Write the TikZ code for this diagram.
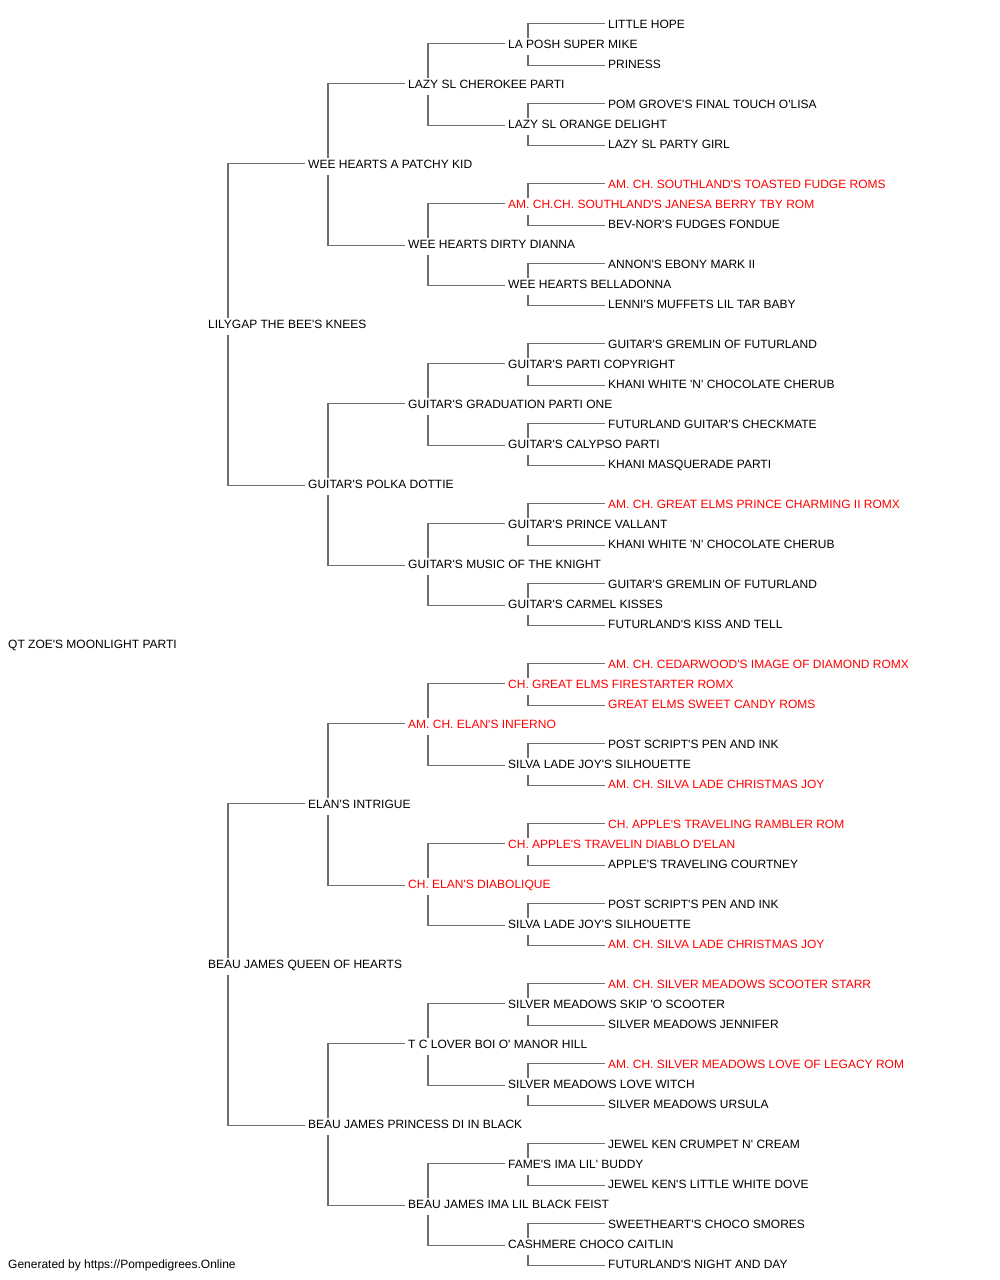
\documentclass[tikz,border=0pt]{standalone}
\usepackage{fontspec}
\newfontfamily\arial{Liberation Sans}
\definecolor{linegray}{RGB}{110,110,110}
\definecolor{champ}{RGB}{255,0,0}
\tikzset{
  nm/.style={anchor=west, yshift=-0.8pt, inner sep=0pt, text height=8.6pt, text depth=0pt, font=\arial\fontsize{12pt}{14pt}\selectfont\frenchspacing, text=black},
  rd/.style={nm, text=champ},
  conn/.style={draw=linegray, line width=1.3pt}
}
\newcommand\ped[3]{%
  \draw[conn] ([xshift=20pt,yshift=6pt]#1.west) |- ([xshift=-3pt,yshift=0.5pt]#2.west);
  \draw[conn] ([xshift=20pt,yshift=-11pt]#1.west) |- ([xshift=-3pt,yshift=-1.5pt]#3.west);
}
\begin{document}
\begin{tikzpicture}[x=1pt,y=-1pt]
\useasboundingbox[fill=white] (0,0) rectangle (1000,1280);
% generation 0
\node[nm] (r) at (8,643) {QT ZOE'S MOONLIGHT PARTI};
% generation 1
\node[nm] (a1) at (208,323) {LILYGAP THE BEE'S KNEES};
\node[nm] (a2) at (208,963) {BEAU JAMES QUEEN OF HEARTS};
% generation 2
\node[nm] (b1) at (308,163) {WEE HEARTS A PATCHY KID};
\node[nm] (b2) at (308,483) {GUITAR'S POLKA DOTTIE};
\node[nm] (b3) at (308,803) {ELAN'S INTRIGUE};
\node[nm] (b4) at (308,1123) {BEAU JAMES PRINCESS DI IN BLACK};
% generation 3
\node[nm] (c1) at (408,83) {LAZY SL CHEROKEE PARTI};
\node[nm] (c2) at (408,243) {WEE HEARTS DIRTY DIANNA};
\node[nm] (c3) at (408,403) {GUITAR'S GRADUATION PARTI ONE};
\node[nm] (c4) at (408,563) {GUITAR'S MUSIC OF THE KNIGHT};
\node[rd] (c5) at (408,723) {AM. CH. ELAN'S INFERNO};
\node[rd] (c6) at (408,883) {CH. ELAN'S DIABOLIQUE};
\node[nm] (c7) at (408,1043) {T C LOVER BOI O' MANOR HILL};
\node[nm] (c8) at (408,1203) {BEAU JAMES IMA LIL BLACK FEIST};
% generation 4
\node[nm] (d1) at (508,43) {LA POSH SUPER MIKE};
\node[nm] (d2) at (508,123) {LAZY SL ORANGE DELIGHT};
\node[rd] (d3) at (508,203) {AM. CH.CH. SOUTHLAND'S JANESA BERRY TBY ROM};
\node[nm] (d4) at (508,283) {WEE HEARTS BELLADONNA};
\node[nm] (d5) at (508,363) {GUITAR'S PARTI COPYRIGHT};
\node[nm] (d6) at (508,443) {GUITAR'S CALYPSO PARTI};
\node[nm] (d7) at (508,523) {GUITAR'S PRINCE VALLANT};
\node[nm] (d8) at (508,603) {GUITAR'S CARMEL KISSES};
\node[rd] (d9) at (508,683) {CH. GREAT ELMS FIRESTARTER ROMX};
\node[nm] (d10) at (508,763) {SILVA LADE JOY'S SILHOUETTE};
\node[rd] (d11) at (508,843) {CH. APPLE'S TRAVELIN DIABLO D'ELAN};
\node[nm] (d12) at (508,923) {SILVA LADE JOY'S SILHOUETTE};
\node[nm] (d13) at (508,1003) {SILVER MEADOWS SKIP 'O SCOOTER};
\node[nm] (d14) at (508,1083) {SILVER MEADOWS LOVE WITCH};
\node[nm] (d15) at (508,1163) {FAME'S IMA LIL' BUDDY};
\node[nm] (d16) at (508,1243) {CASHMERE CHOCO CAITLIN};
% generation 5
\node[nm] (e1) at (608,23) {LITTLE HOPE};
\node[nm] (e2) at (608,63) {PRINESS};
\node[nm] (e3) at (608,103) {POM GROVE'S FINAL TOUCH O'LISA};
\node[nm] (e4) at (608,143) {LAZY SL PARTY GIRL};
\node[rd] (e5) at (608,183) {AM. CH. SOUTHLAND'S TOASTED FUDGE ROMS};
\node[nm] (e6) at (608,223) {BEV-NOR'S FUDGES FONDUE};
\node[nm] (e7) at (608,263) {ANNON'S EBONY MARK II};
\node[nm] (e8) at (608,303) {LENNI'S MUFFETS LIL TAR BABY};
\node[nm] (e9) at (608,343) {GUITAR'S GREMLIN OF FUTURLAND};
\node[nm] (e10) at (608,383) {KHANI WHITE 'N' CHOCOLATE CHERUB};
\node[nm] (e11) at (608,423) {FUTURLAND GUITAR'S CHECKMATE};
\node[nm] (e12) at (608,463) {KHANI MASQUERADE PARTI};
\node[rd] (e13) at (608,503) {AM. CH. GREAT ELMS PRINCE CHARMING II ROMX};
\node[nm] (e14) at (608,543) {KHANI WHITE 'N' CHOCOLATE CHERUB};
\node[nm] (e15) at (608,583) {GUITAR'S GREMLIN OF FUTURLAND};
\node[nm] (e16) at (608,623) {FUTURLAND'S KISS AND TELL};
\node[rd] (e17) at (608,663) {AM. CH. CEDARWOOD'S IMAGE OF DIAMOND ROMX};
\node[rd] (e18) at (608,703) {GREAT ELMS SWEET CANDY ROMS};
\node[nm] (e19) at (608,743) {POST SCRIPT'S PEN AND INK};
\node[rd] (e20) at (608,783) {AM. CH. SILVA LADE CHRISTMAS JOY};
\node[rd] (e21) at (608,823) {CH. APPLE'S TRAVELING RAMBLER ROM};
\node[nm] (e22) at (608,863) {APPLE'S TRAVELING COURTNEY};
\node[nm] (e23) at (608,903) {POST SCRIPT'S PEN AND INK};
\node[rd] (e24) at (608,943) {AM. CH. SILVA LADE CHRISTMAS JOY};
\node[rd] (e25) at (608,983) {AM. CH. SILVER MEADOWS SCOOTER STARR};
\node[nm] (e26) at (608,1023) {SILVER MEADOWS JENNIFER};
\node[rd] (e27) at (608,1063) {AM. CH. SILVER MEADOWS LOVE OF LEGACY ROM};
\node[nm] (e28) at (608,1103) {SILVER MEADOWS URSULA};
\node[nm] (e29) at (608,1143) {JEWEL KEN CRUMPET N' CREAM};
\node[nm] (e30) at (608,1183) {JEWEL KEN'S LITTLE WHITE DOVE};
\node[nm] (e31) at (608,1223) {SWEETHEART'S CHOCO SMORES};
\node[nm] (e32) at (608,1263) {FUTURLAND'S NIGHT AND DAY};
% footer
\node[nm] (foot) at (8,1263) {Generated by https://Pompedigrees.Online};
% connectors
\ped{a1}{b1}{b2}
\ped{a2}{b3}{b4}
\foreach \i in {1,...,4}{
  \pgfmathtruncatemacro\s{2*\i-1}\pgfmathtruncatemacro\t{2*\i}
  \ped{b\i}{c\s}{c\t}
}
\foreach \i in {1,...,8}{
  \pgfmathtruncatemacro\s{2*\i-1}\pgfmathtruncatemacro\t{2*\i}
  \ped{c\i}{d\s}{d\t}
}
\foreach \i in {1,...,16}{
  \pgfmathtruncatemacro\s{2*\i-1}\pgfmathtruncatemacro\t{2*\i}
  \ped{d\i}{e\s}{e\t}
}
\end{tikzpicture}
\end{document}
